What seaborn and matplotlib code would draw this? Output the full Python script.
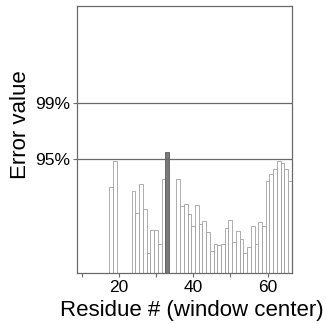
import matplotlib
matplotlib.use("Agg")
import matplotlib.pyplot as plt
import seaborn as sns
import pandas as pd

# Residue (window center) and error value per window
residues = [18, 19, 24, 25, 26, 27, 28, 29, 30, 31, 32, 33,
            36, 37, 38, 39, 40, 41, 42, 43, 44, 45, 46, 47, 48, 49, 50,
            51, 52, 53, 54, 55, 56, 57, 58, 59, 60, 61, 62, 63, 64, 65, 66]
errors = [0.854, 1.114, 0.820, 0.597, 0.887, 0.640, 0.200, 0.427, 0.427, 0.290, 0.934, 1.207,
          0.934, 0.664, 0.687, 0.587, 0.464, 0.677, 0.484, 0.514, 0.407, 0.214, 0.290, 0.274, 0.290, 0.444, 0.530,
          0.310, 0.417, 0.337, 0.200, 0.254, 0.467, 0.287, 0.507, 0.467, 0.914, 0.984, 1.037, 1.114, 1.094, 1.037, 0.917]
highlight = [33]

# Significance thresholds
threshold_labels = ["95%", "99%"]
threshold_values = [1.137, 1.700]

df = pd.DataFrame({"residue": residues, "error": errors})
df["group"] = ["hi" if r in highlight else "lo" for r in residues]

sns.set_style("white")
plt.rcParams["font.family"] = ["Liberation Sans", "DejaVu Sans"]

fig = plt.figure(figsize=(3.26, 3.24), dpi=100)
ax = fig.add_axes([0.2353, 0.1583, 0.8948 - 0.2353, 0.9824 - 0.1583])

sns.barplot(data=df, x="residue", y="error", hue="group", native_scale=True,
            palette={"lo": "white", "hi": "#7a7a7a"}, width=1.0, legend=False,
            edgecolor="#a0a0a0", linewidth=0.6, ax=ax, errorbar=None)
for p in ax.patches:
    if p.get_facecolor()[0] < 0.9:
        p.set_edgecolor("#5a5a5a")

for v in threshold_values:
    ax.axhline(v, color="#6a6a6a", linewidth=0.9, zorder=3)

ax.set_xlim(8.7, 66.5)
ax.set_ylim(0, 2.67)
ax.set_xticks([10, 20, 30, 40, 50, 60])
ax.set_xticklabels(["", "20", "", "40", "", "60"])
ax.set_yticks(threshold_values)
ax.set_yticklabels(threshold_labels)
ax.tick_params(axis="both", direction="out", length=3, width=0.8, color="#6a6a6a",
               labelsize=12.5, labelcolor="black", pad=2, bottom=True, left=True)
for s in ax.spines.values():
    s.set_color("#6a6a6a")
    s.set_linewidth(0.9)
    s.set_visible(True)

ax.set_xlabel("Residue # (window center)", fontsize=16, labelpad=4, color="black")
ax.set_ylabel("Error value", fontsize=16, labelpad=3, color="black")
ax.xaxis.label.set_x(0.534)
ax.yaxis.label.set_y(0.553)

fig.savefig("out.png", dpi=100)
